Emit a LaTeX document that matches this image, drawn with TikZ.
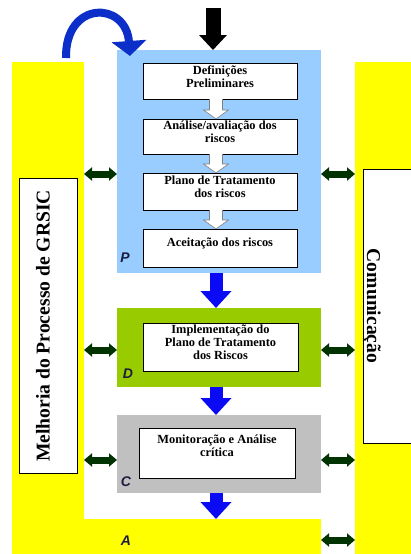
\documentclass[tikz,border=0pt]{standalone}
\usepackage{fontspec}
\setmainfont{Liberation Serif}
\newfontfamily\boldserif{Liberation Serif Bold}
\newfontfamily\labelfont{Liberation Sans}
\usetikzlibrary{fit,arrows.meta,calc}
\definecolor{planblue}{HTML}{99CCFF}
\definecolor{dogreen}{HTML}{99CC00}
\definecolor{checkgray}{HTML}{C0C0C0}
\definecolor{actyellow}{HTML}{FFFF00}
\definecolor{linkgreen}{HTML}{003300}
\definecolor{flowblue}{HTML}{0A0AF5}
\definecolor{loopblue}{HTML}{0B2FC8}
\definecolor{phaseink}{HTML}{1C1C40}

% hollow block arrow from the bottom of one step to the top of the next
\newcommand\hollowdown[2]{%
  \fill[white] let \p1=(#1.south -| axis), \p2=(#2.north -| axis) in
    (\x1-6.5pt,\y1) -- (\x1-6.5pt,\y2+9pt) -- (\x1-12.5pt,\y2+9pt) -- (\x1,\y2)
    -- (\x1+12.5pt,\y2+9pt) -- (\x1+6.5pt,\y2+9pt) -- (\x1+6.5pt,\y1) -- cycle;
  \draw[hollow] let \p1=(#1.south -| axis), \p2=(#2.north -| axis) in
    (\x1-6.5pt,\y1-0.4pt) -- (\x1-6.5pt,\y2+9pt) -- (\x1-12.5pt,\y2+9pt) -- (\x1,\y2)
    -- (\x1+12.5pt,\y2+9pt) -- (\x1+6.5pt,\y2+9pt) -- (\x1+6.5pt,\y1-0.4pt);}

\begin{document}
\begin{tikzpicture}[x=1pt,y=-1pt,
  area/.style={inner sep=0pt, outer sep=0pt},
  stepbox/.style={draw=black, line width=0.8pt, fill=white, inner sep=0pt, outer sep=0pt,
    align=center, font=\boldserif\fontsize{12.4}{13}\selectfont},
  steptext/.style={align=center, inner sep=0pt, font=\boldserif\fontsize{12.4}{13}\selectfont},
  sidebox/.style={draw=black, line width=0.8pt, fill=white, inner sep=0pt, outer sep=0pt},
  phase/.style={font=\labelfont\bfseries\itshape\fontsize{14}{14}\selectfont, text=phaseink, inner sep=0pt},
  sidetext/.style={font=\boldserif\fontsize{19.6}{20}\selectfont, inner sep=0pt},
  flow/.style={flowblue, line width=13pt, -{Triangle[width=30pt,length=17pt]}},
  hollow/.style={draw=gray, line width=0.6pt, line join=miter},
  link/.style={linkgreen, line width=7pt,
    {Triangle[width=13pt,length=8pt]}-{Triangle[width=13pt,length=8pt]}},
]
\useasboundingbox (0,0) rectangle (411,554);
\clip (0,0) rectangle (411,554);

% Act: yellow frame on the left, bottom and right
\node[area, fill=actyellow, fit={(12,62)(84,554)}] (lbar) {};
\node[area, fill=actyellow, fit={(12,519)(321,554)}] (abar) {};
\node[area, fill=actyellow, fit={(355,62)(430,554)}] (rbar) {};

% Plan, Do, Check blocks
\node[area, fill=planblue, fit={(117,50)(321,273)}] (P) {};
\node[area, fill=dogreen, fit={(117,308)(321,387)}] (D) {};
\node[area, fill=checkgray, fit={(117,415)(321,493)}] (C) {};

\coordinate (axis) at (216,0);

% steps of the planning phase
\node[stepbox, fit={(143,63)(297,99)}] (s1) {Definições\\Preliminares};
\node[stepbox, fit={(143,119)(297,154)}] (s2) {Análise/avaliação dos\\riscos};
\node[stepbox, fit={(143,173)(297,210)}] (s3) {Plano de Tratamento\\dos riscos};
\node[stepbox, fit={(143,229)(297,267)}] (s4) {};
\node[steptext] (s4t) at (220,243) {Aceitação dos riscos};
\hollowdown{s1}{s2}
\hollowdown{s2}{s3}
\hollowdown{s3}{s4}

\node[stepbox, fit={(143,323)(298,371)}] (d1) {Implementação do\\Plano de Tratamento\\dos Riscos};
\node[stepbox, fit={(139,428)(295,478)}] (c1) {};
\node[steptext] (c1t) at (217,446) {Monitoração e Análise\\crítica};

% phase letters
\node[phase] (Pl) at (125,258) {P};
\node[phase] (Dl) at (128,374) {D};
\node[phase] (Cl) at (126,482) {C};
\node[phase] (Al) at (126,541) {A};

% flow between the phases
\draw[flow] (P.south -| axis) -- (D.north -| axis);
\draw[flow] (D.south -| axis) -- (C.north -| axis);
\draw[flow] (C.south -| axis) -- (abar.north -| axis);

% entry arrow
\coordinate (feed) at (213,8);
\draw[black, line width=15pt, -{Triangle[width=27pt,length=15pt]}] (feed) -- (feed |- P.north);

% loop back from Act into Plan
\coordinate (loopstart) at (66,58);
\coordinate (loopend) at (130,56);
\draw[loopblue, line width=8pt, -{Triangle[width=34pt,length=15pt]}]
  (loopstart) .. controls (65,0) and (126,1) .. (loopend);

% side panels
\node[sidebox, fit={(19,178)(77,473)}] (impr) {};
\node[sidetext, rotate=90] (imprt) at (43,326) {Melhoria do Processo de GRSIC};
\node[sidebox, fit={(363,169)(440,443)}] (comm) {};
\node[sidetext, rotate=-90] (commt) at (372,306) {Comunicação};

% two-way links between the side panels and the phases
\coordinate (yP) at (0,174);
\coordinate (yD) at (0,350);
\coordinate (yC) at (0,460);
\coordinate (yA) at (0,540);
\draw[link] (lbar.east |- yP) -- (P.west |- yP);
\draw[link] (lbar.east |- yD) -- (D.west |- yD);
\draw[link] (lbar.east |- yC) -- (C.west |- yC);
\draw[link] (P.east |- yP) -- (rbar.west |- yP);
\draw[link] (D.east |- yD) -- (rbar.west |- yD);
\draw[link] (C.east |- yC) -- (rbar.west |- yC);
\draw[link] (abar.east |- yA) -- (rbar.west |- yA);
\end{tikzpicture}
\end{document}
